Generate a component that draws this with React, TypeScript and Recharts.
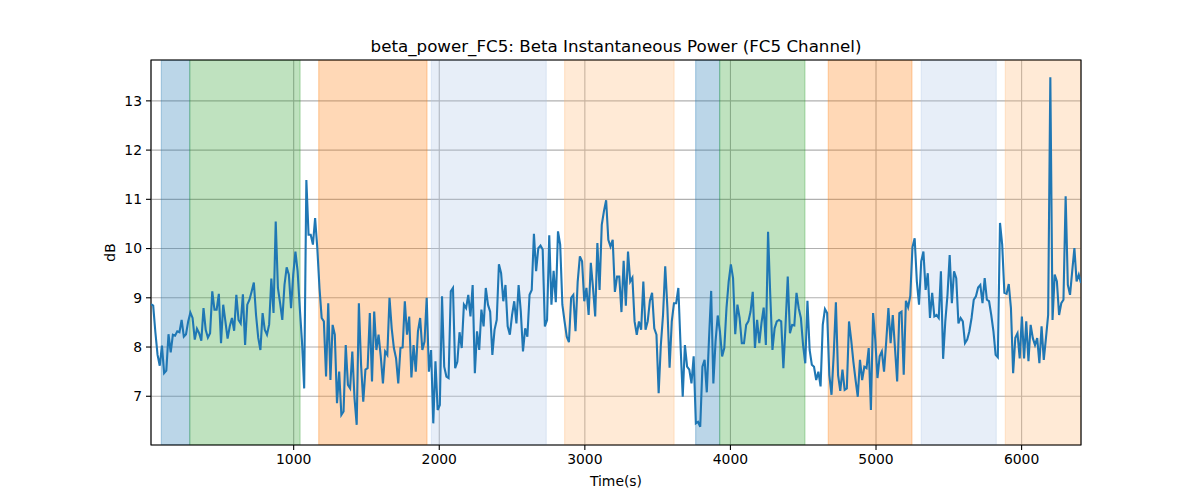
import React from 'react';
import { LineChart, Line, XAxis, YAxis, CartesianGrid, ReferenceArea, Label } from 'recharts';

const FONT = 'DejaVu Sans, sans-serif';

// sample times: evenly spaced from T0 with step T_STEP
const T0 = 20;
const T_STEP = 15.03;

const SEG1 = [
  8.87, 8.84, 8.3, 7.84, 7.62, 8.03, 7.47, 7.52, 8.26, 7.89,
  8.25, 8.23, 8.32, 8.3, 8.55, 8.21, 8.26, 8.52, 8.7, 8.59,
  8.15, 8.37, 8.28, 8.13, 8.79, 8.35, 8.19, 8.28, 9.13, 8.76,
  8.76, 9.08, 8.08, 8.86, 8.52, 8.17, 8.42, 8.59, 8.33, 9.06,
  8.55, 8.48, 9.07, 8.04, 8.86, 8.96, 9.13, 9.31, 8.65, 8.19,
  7.94, 8.69, 8.35, 8.25, 8.46, 9.39, 8.69, 10.55, 9.2, 8.89,
  8.55, 9.26, 9.62, 9.47, 8.79, 9.47, 9.94, 9.54, 8.79, 8.11,
  7.16, 11.39, 10.28,
];
const SEG2 = [
  10.28, 10.08, 10.62, 10.01, 9.2, 8.59, 8.52, 7.4, 8.89, 7.33,
  8.45, 8.25, 6.86, 7.5, 6.62, 6.69, 8.04, 7.23, 7.16, 7.91,
  6.96, 6.42, 8.89, 7.64, 6.89, 7.54, 7.57, 8.69, 7.3, 8.72,
  7.94, 8.25, 7.81, 7.26, 7.91, 7.84, 9.0, 8.38, 7.98, 7.77,
  7.26, 7.98, 7.99, 8.93, 8.25, 8.62, 7.38, 8.04, 7.5, 8.32,
  8.59, 7.94, 8.11, 9.0, 7.5, 7.94, 6.45, 7.71, 6.72, 6.82,
  9.03, 7.6, 7.4, 7.37, 9.13, 9.2, 7.57, 7.7, 8.3,
];
const SEG3 = [
  7.98, 8.86, 8.79, 9.06, 8.62, 9.26, 7.47, 8.32, 7.94, 8.76,
  8.42, 9.2, 8.86, 8.72, 7.84, 8.35, 8.55, 9.68, 9.5, 8.93,
  9.26, 8.42, 8.25, 8.65, 8.93, 8.48, 9.26, 8.72, 7.91, 8.38,
  8.21, 9.06, 9.16, 10.3, 9.54, 10.01, 10.06, 9.98, 8.42, 8.55,
  10.27, 8.86, 9.55, 8.91, 10.35, 10.08, 8.86, 8.52, 8.21, 8.1,
  9.0, 9.06, 8.32, 9.33, 9.84, 9.74, 8.93, 9.2, 8.65, 9.71,
  9.2, 8.62, 10.11, 9.16, 10.48, 10.76, 10.98, 10.18, 10.04,
];
const SEG4 = [
  10.18, 9.12, 9.43, 9.43, 8.71, 9.75, 8.84, 9.94, 9.33, 9.41,
  8.52, 8.25, 8.52, 8.35, 9.33, 8.35, 8.52, 8.94, 9.1, 8.38,
  8.25, 7.06, 8.04, 8.65, 9.64, 8.79, 7.58, 8.52, 8.89, 8.89,
  9.2, 8.04, 6.99, 8.04, 7.6, 7.54, 7.26, 7.81, 6.45, 6.48,
  6.38, 7.6, 7.74, 7.08, 8.15, 9.14, 7.26, 8.11, 8.64, 8.32,
  7.81, 7.98, 8.79, 9.33, 9.68, 9.4, 8.26, 8.86, 8.59, 8.08,
  8.08, 8.45, 8.52, 8.72, 9.12, 7.98, 8.55, 8.08, 8.49,
];
const SEG5 = [
  8.8, 8.04, 10.34, 9.06, 7.94, 8.38, 8.52, 8.55, 8.52, 7.57,
  8.45, 9.43, 8.28, 8.45, 8.44, 9.1, 8.79, 8.59, 8.04, 7.67,
  8.94, 7.94, 7.64, 7.6, 7.33, 7.5, 7.2, 8.45, 8.77, 8.69,
  7.43, 7.03, 7.84, 8.91, 7.43, 7.11, 7.54, 7.13, 7.16, 8.52,
  8.14, 7.7, 7.33, 6.99, 7.74, 7.33, 7.6, 7.57, 7.98, 6.72,
  8.69, 8.15, 7.37, 7.81, 7.91, 7.5, 8.11, 8.79, 8.08, 8.65,
  7.98, 7.3, 8.69, 8.72, 7.44, 8.94, 8.81, 9.04, 10.03, 10.21,
  9.33, 8.86, 9.74,
];
const SEG6 = [
  9.94, 9.16, 9.5, 8.59, 9.1, 8.62, 8.65, 8.59, 9.54, 7.76,
  8.52, 9.06, 9.87, 8.89, 9.54, 9.4, 8.48, 8.59, 8.52, 8.08,
  8.15, 8.32, 8.59, 8.96, 9.03, 9.21, 9.26, 8.89, 9.4, 8.96,
  8.93, 8.65, 8.32, 7.84, 7.79, 10.52, 10.08, 9.1, 9.08, 9.28,
  8.79, 7.47, 8.19, 8.28, 7.77, 8.62, 7.77, 8.52, 7.71, 8.45,
  8.18, 8.04, 8.18, 7.67, 8.42, 7.74, 8.18, 8.65, 13.48, 8.55,
  9.47, 9.33, 8.65, 8.89, 8.96, 11.06, 9.26, 9.06, 9.54, 10.01,
  9.33, 9.47, 9.3,
];

const VALUES = [...SEG1, ...SEG2, ...SEG3, ...SEG4, ...SEG5, ...SEG6];

const X_DOMAIN: [number, number] = [20, 6408];
const Y_DOMAIN: [number, number] = [6.01, 13.83];
const X_TICKS = [1000, 2000, 3000, 4000, 5000, 6000];
const Y_TICKS = [7, 8, 9, 10, 11, 12, 13];

const SPAN_START = [91, 286, 1172, 1946, 2861, 3761, 3926, 4672, 5311, 5888];
const SPAN_END = [286, 1044, 1916, 2735, 3613, 3926, 4512, 5247, 5826, 6408];
const SPAN_COLOR = [
  '#1f77b4', '#2ca02c', '#ff7f0e', '#aec7e8', '#ffbb78',
  '#1f77b4', '#2ca02c', '#ff7f0e', '#aec7e8', '#ffbb78',
];

const TITLE = 'beta_power_FC5: Beta Instantaneous Power (FC5 Channel)';
const X_LABEL = 'Time(s)';
const Y_LABEL = 'dB';

const data = VALUES.map((v, i) => ({ t: T0 + i * T_STEP, v }));

const tickStyle = { fill: '#000', fontSize: 13.9, fontFamily: FONT };

export default function App() {
  return (
    <div style={{ position: 'absolute', left: 0, top: 0, width: 1200, height: 500, background: '#fff', fontFamily: FONT }}>
      <LineChart width={1200} height={500} data={data} margin={{ top: 60, right: 119, bottom: 25, left: 0 }}>
        {SPAN_START.map((s, i) => (
          <ReferenceArea
            key={'span' + i}
            x1={s}
            x2={SPAN_END[i]}
            y1={Y_DOMAIN[0]}
            y2={Y_DOMAIN[1]}
            fill={SPAN_COLOR[i]}
            fillOpacity={0.3}
            stroke={SPAN_COLOR[i]}
            strokeOpacity={0.3}
            strokeWidth={1.2}
            ifOverflow="hidden"
          />
        ))}
        <CartesianGrid stroke="#b0b0b0" strokeWidth={1.1} />
        <XAxis
          dataKey="t"
          type="number"
          domain={X_DOMAIN}
          ticks={X_TICKS}
          allowDataOverflow
          height={30}
          tick={tickStyle}
          tickLine={{ stroke: '#000', strokeWidth: 1.1 }}
          axisLine={false}
          tickSize={5}
          tickMargin={4}
        >
          <Label
            content={(props: any) => {
              const vb = props.viewBox || { x: 151, y: 445, width: 930, height: 30 };
              return (
                <text x={vb.x + vb.width / 2} y={vb.y + 36} textAnchor="middle" dominantBaseline="central" fill="#000" fontSize={13.9} fontFamily={FONT}>
                  {X_LABEL}
                </text>
              );
            }}
          />
        </XAxis>
        <YAxis
          type="number"
          domain={Y_DOMAIN}
          ticks={Y_TICKS}
          allowDataOverflow
          width={151}
          tick={tickStyle}
          tickLine={{ stroke: '#000', strokeWidth: 1.1 }}
          axisLine={false}
          tickSize={5}
          tickMargin={4}
        >
          <Label
            content={(props: any) => {
              const vb = props.viewBox || { x: 0, y: 60, width: 151, height: 385 };
              const cx = vb.x + vb.width - 41;
              const cy = vb.y + vb.height / 2;
              return (
                <text x={cx} y={cy} transform={`rotate(-90, ${cx}, ${cy})`} textAnchor="middle" dominantBaseline="central" fill="#000" fontSize={13.9} fontFamily={FONT}>
                  {Y_LABEL}
                </text>
              );
            }}
          />
        </YAxis>
        <Line type="linear" dataKey="v" stroke="#1f77b4" strokeWidth={2.1} dot={false} activeDot={false} isAnimationActive={false} />
        <ReferenceArea
          x1={X_DOMAIN[0]}
          x2={X_DOMAIN[1]}
          y1={Y_DOMAIN[0]}
          y2={Y_DOMAIN[1]}
          fill="none"
          stroke="#000"
          strokeWidth={1.1}
          ifOverflow="visible"
        />
      </LineChart>
      <div style={{ position: 'absolute', left: 151, top: 35, width: 930, textAlign: 'center', fontSize: 16.7, lineHeight: '22px', color: '#000', fontFamily: FONT }}>
        {TITLE}
      </div>
    </div>
  );
}
